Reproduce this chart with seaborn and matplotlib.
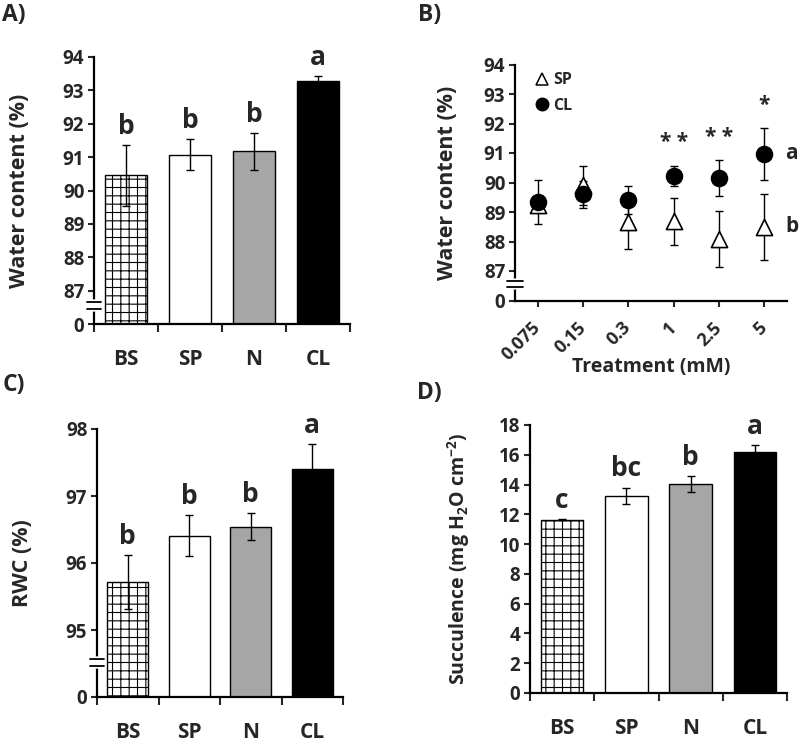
import numpy as np
import matplotlib
matplotlib.use("Agg")
import matplotlib.pyplot as plt
from matplotlib.lines import Line2D
import seaborn as sns

# ---------------------------------------------------------------------------
# Data
# ---------------------------------------------------------------------------
groups = ["BS", "SP", "N", "CL"]
bar_colors = ["white", "white", "#a6a6a6", "black"]

# A) water content (%)
wc_mean = [90.45, 91.07, 91.17, 93.27]
wc_err = [0.90, 0.47, 0.55, 0.15]
wc_letters = ["b", "b", "b", "a"]

# B) water content vs treatment (mM)
treat = ["0.075", "0.15", "0.3", "1", "2.5", "5"]
sp_mean = [89.25, 89.90, 88.65, 88.68, 88.10, 88.50]
sp_err = [0.10, 0.65, 0.90, 0.80, 0.95, 1.12]
cl_mean = [89.34, 89.60, 89.40, 90.22, 90.15, 90.97]
cl_err = [0.76, 0.45, 0.48, 0.34, 0.60, 0.87]
stars = ["", "", "", "**", "**", "*"]
end_letters = {"CL": "a", "SP": "b"}

# C) RWC (%)
rwc_mean = [95.72, 96.41, 96.54, 97.40]
rwc_err = [0.40, 0.31, 0.20, 0.37]
rwc_letters = ["b", "b", "b", "a"]

# D) succulence (mg H2O cm-2)
suc_mean = [11.65, 13.25, 14.02, 16.22]
suc_err = [0.05, 0.55, 0.55, 0.45]
suc_letters = ["c", "bc", "b", "a"]

# ---------------------------------------------------------------------------
# Style
# ---------------------------------------------------------------------------
sns.set_style("ticks")
plt.rcParams["font.family"] = ["Open Sans", "DejaVu Sans"]
plt.rcParams["font.weight"] = "bold"
plt.rcParams["axes.labelweight"] = "bold"
plt.rcParams["mathtext.fontset"] = "custom"
plt.rcParams["mathtext.rm"] = "Open Sans:bold"
plt.rcParams["mathtext.bf"] = "Open Sans:bold"
plt.rcParams["mathtext.default"] = "rm"
plt.rcParams["hatch.linewidth"] = 0.8

W, H = 800, 743
fig = plt.figure(figsize=(W / 100, H / 100), dpi=100)
BOLD = "bold"


def px_axes(left, top, right, bottom):
    return fig.add_axes([left / W, 1 - bottom / H, (right - left) / W, (bottom - top) / H])


def style(ax):
    sns.despine(ax=ax)
    for s in ("left", "bottom"):
        ax.spines[s].set_linewidth(1.6)
        ax.spines[s].set_color("black")
    ax.tick_params(axis="y", direction="out", length=4, width=1.5, labelsize=13.5, pad=3)
    for lab in ax.get_xticklabels() + ax.get_yticklabels():
        lab.set_fontweight(BOLD)


def add_break(ax, y_lo, y_hi):
    tr = ax.get_yaxis_transform()
    ax.plot([0, 0], [y_lo, y_hi], color="white", lw=4, transform=tr, clip_on=False, zorder=6)
    for y in (y_lo, y_hi):
        ax.plot([-0.028, 0.028], [y, y], color="black", lw=1.3, transform=tr,
                clip_on=False, zorder=7)


def bar_panel(ax, means, errs, letters, ylim, yticks, yticklabels):
    sns.barplot(x=groups, y=means, hue=groups, palette=bar_colors, legend=False,
                width=0.66, edgecolor="black", linewidth=1.0, saturation=1, ax=ax)
    ax.patches[0].set_hatch("++")
    ax.errorbar(np.arange(len(groups)), means, yerr=errs, fmt="none", ecolor="black",
                elinewidth=1.0, capsize=2.8, capthick=1.0, zorder=4)
    for i, (m, e, t) in enumerate(zip(means, errs, letters)):
        ax.annotate(t, (i, m + e), xytext=(0, 8), textcoords="offset points",
                    ha="center", va="baseline", fontsize=19, fontweight=BOLD)
    ax.set_xlim(-0.5, len(groups) - 0.5)
    ax.set_ylim(*ylim)
    ax.set_yticks(yticks)
    ax.set_yticklabels(yticklabels)
    ax.set_xticks(np.arange(len(groups)))
    ax.set_xticklabels(groups)
    ax.set_xticks(np.arange(len(groups) + 1) - 0.5, minor=True)
    ax.tick_params(axis="x", which="major", length=0, labelsize=15, pad=18)
    ax.tick_params(axis="x", which="minor", direction="out", length=6, width=1.5)
    ax.set_xlabel("")
    style(ax)


# ---------------------------------------------------------------------------
# A) water content
# ---------------------------------------------------------------------------
axA = px_axes(94, 57, 350, 324)
bar_panel(axA, wc_mean, wc_err, wc_letters, (86, 94), np.arange(86, 95),
          ["0"] + [str(v) for v in range(87, 95)])
axA.set_ylabel("Water content (%)", fontsize=15.5, fontweight=BOLD)
axA.yaxis.set_label_coords(-0.25, 0.5)
add_break(axA, 86.45, 86.67)

# ---------------------------------------------------------------------------
# B) water content vs treatment
# ---------------------------------------------------------------------------
axB = px_axes(515, 64.5, 787, 300.5)
xb = np.arange(len(treat))
axB.errorbar(xb, sp_mean, yerr=sp_err, fmt="none", ecolor="black", elinewidth=1.0,
             capsize=2.8, capthick=1.0, zorder=2)
axB.errorbar(xb, cl_mean, yerr=cl_err, fmt="none", ecolor="black", elinewidth=1.0,
             capsize=2.8, capthick=1.0, zorder=2)
sns.scatterplot(x=xb, y=sp_mean, marker="^", s=135, color="white", edgecolor="black",
                linewidth=1.2, zorder=3, ax=axB)
sns.scatterplot(x=xb, y=cl_mean, marker="o", s=135, color="black", edgecolor="black",
                linewidth=1.0, zorder=4, ax=axB)
for i, (m, e, t) in enumerate(zip(cl_mean, cl_err, stars)):
    if t:
        axB.annotate(" ".join(t), (i, m + e), xytext=(0, 9), textcoords="offset points",
                     ha="center", va="bottom", fontsize=15, fontweight=BOLD)
axB.annotate(end_letters["CL"], (xb[-1], cl_mean[-1]), xytext=(15, 0),
             textcoords="offset points", ha="left", va="center", fontsize=15,
             fontweight=BOLD, annotation_clip=False)
axB.annotate(end_letters["SP"], (xb[-1], sp_mean[-1]), xytext=(15, 0),
             textcoords="offset points", ha="left", va="center", fontsize=15,
             fontweight=BOLD, annotation_clip=False)
axB.set_xlim(-0.5, len(treat) - 0.5)
axB.set_ylim(86, 94)
axB.set_yticks(np.arange(86, 95))
axB.set_yticklabels(["0"] + [str(v) for v in range(87, 95)])
axB.set_xticks(xb)
axB.set_xticklabels(treat, rotation=45, ha="right", va="center", rotation_mode="anchor")
axB.tick_params(axis="x", direction="out", length=4.5, width=1.5, labelsize=13, pad=13)
style(axB)
axB.set_ylabel("Water content (%)", fontsize=15.5, fontweight=BOLD)
axB.yaxis.set_label_coords(-0.21, 0.5)
axB.set_xlabel("Treatment (mM)", fontsize=14, fontweight=BOLD)
axB.xaxis.set_label_coords(0.5, -0.24)
axB.xaxis.label.set_va("top")
add_break(axB, 86.47, 86.67)
handles = [
    Line2D([], [], marker="^", ls="none", color="black", markerfacecolor="white",
           markersize=9, markeredgewidth=1.1),
    Line2D([], [], marker="o", ls="none", color="black", markersize=9),
]
axB.legend(handles, ["SP", "CL"], loc="upper left", bbox_to_anchor=(0.05, 1.0),
           frameon=False, handlelength=0.7, handletextpad=0.35, labelspacing=0.6,
           borderpad=0, prop={"weight": "bold", "size": 11.5})

# ---------------------------------------------------------------------------
# C) RWC
# ---------------------------------------------------------------------------
axC = px_axes(97, 429, 343, 697)
bar_panel(axC, rwc_mean, rwc_err, rwc_letters, (94, 98), np.arange(94, 99),
          ["0"] + [str(v) for v in range(95, 99)])
axC.set_ylabel("RWC (%)", fontsize=15.5, fontweight=BOLD)
axC.yaxis.set_label_coords(-0.26, 0.5)
add_break(axC, 94.47, 94.57)

# ---------------------------------------------------------------------------
# D) succulence
# ---------------------------------------------------------------------------
axD = px_axes(530, 425, 787, 693)
bar_panel(axD, suc_mean, suc_err, suc_letters, (0, 18), np.arange(0, 19, 2),
          [str(v) for v in range(0, 19, 2)])
axD.set_ylabel("Succulence (mg H$_2$O cm$^{-2}$)", fontsize=14, fontweight=BOLD)
axD.yaxis.set_label_coords(-0.226, 0.5)

# panel tags
for tag, x, y in [("A)", 2, 3), ("B)", 418, 3), ("C)", 3, 373), ("D)", 417, 381)]:
    fig.text(x / W, 1 - y / H, tag, ha="left", va="top", fontsize=16.5, fontweight=BOLD)

fig.savefig("out.png", dpi=100)
